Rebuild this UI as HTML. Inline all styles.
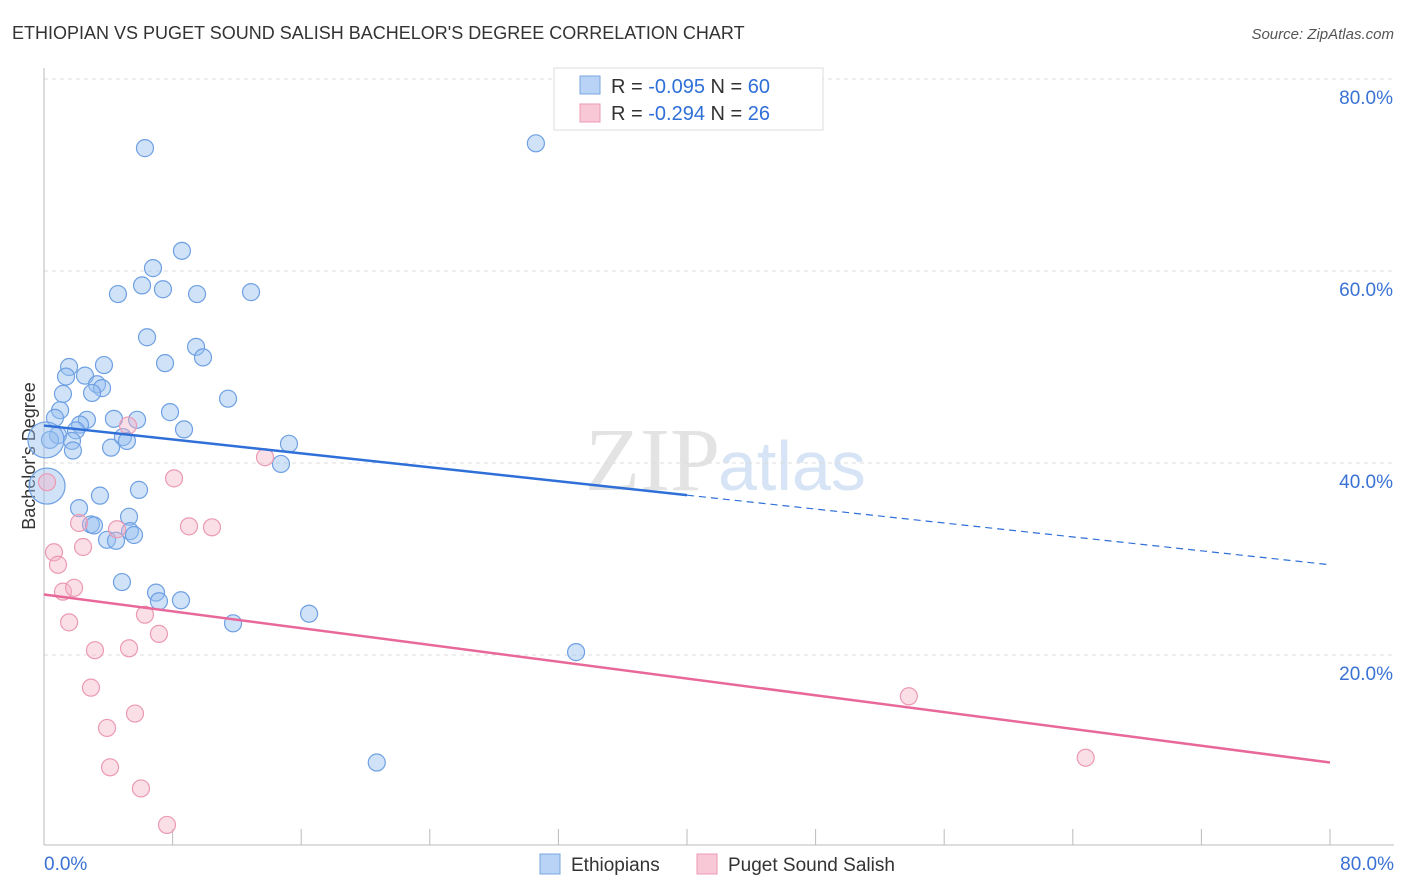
<!DOCTYPE html>
<html><head><meta charset="utf-8"><style>
body{margin:0;background:#fff;font-family:"Liberation Sans",sans-serif;}
svg{display:block}
</style></head><body>
<svg width="1406" height="892" viewBox="0 0 1406 892" id="svg">
<text x="12" y="39" font-size="18" fill="#333">ETHIOPIAN VS PUGET SOUND SALISH BACHELOR'S DEGREE CORRELATION CHART</text>
<text x="1394" y="39" font-size="15" fill="#555" font-style="italic" text-anchor="end">Source: ZipAtlas.com</text>
<text x="720" y="490" font-size="90" fill="#e3e3e3" font-family="Liberation Serif" text-anchor="end">ZIP</text>
<text x="718" y="490" font-size="70" fill="#d6e4f5">atlas</text>
<text x="35" y="456" font-size="18" fill="#333" text-anchor="middle" transform="rotate(-90 35 456)">Bachelor's Degree</text>
<g id="grid"></g><g id="pts"></g><g id="lines"></g>
<g>
<rect x="554" y="68" width="269" height="62" fill="#fff" stroke="#ddd"/>
<rect x="580" y="76" width="20" height="18" fill="#b8d3f5" stroke="#7aa7e0"/>
<rect x="580" y="104" width="20" height="18" fill="#f9c8d6" stroke="#eb9ab2"/>
<text x="611" y="93" font-size="20" fill="#333">R = <tspan fill="#2f6fd8">-0.095</tspan>   N = <tspan fill="#2f6fd8">60</tspan></text>
<text x="611" y="120" font-size="20" fill="#333">R = <tspan fill="#2f6fd8">-0.294</tspan>   N = <tspan fill="#2f6fd8"> 26</tspan></text>
</g>
<g>
<rect x="540" y="854" width="20" height="20" fill="#b8d3f5" stroke="#7aa7e0"/>
<text x="571" y="871" font-size="19" fill="#333">Ethiopians</text>
<rect x="697" y="854" width="20" height="20" fill="#f9c8d6" stroke="#eb9ab2"/>
<text x="728" y="871" font-size="19" fill="#333">Puget Sound Salish</text>
</g>
</svg>
<script>
const yTicks=[20,40,60,80];
const yTickLabels=["20.0%","40.0%","60.0%","80.0%"];
const xTicks=[0,8,16,24,32,40,48,56,64,72,80];
const ethX=[6.28,30.6,8.58,6.78,4.60,6.10,7.40,9.52,12.88,6.41,9.46,9.89,7.53,1.56,3.73,1.37,2.55,3.30,3.61,2.99,1.18,11.45,1.00,7.84,0.68,2.67,4.35,5.79,2.24,1.99,8.71,0.87,4.91,5.16,0.37,1.74,4.17,15.24,1.80,14.74,5.91,3.48,2.18,5.29,2.92,3.11,5.35,5.60,3.92,4.48,4.85,6.97,7.15,8.52,11.76,16.49,33.1,20.7,0.19,0.12];
const ethY=[72.8,73.3,62.1,60.3,57.6,58.5,58.1,57.6,57.8,53.1,52.1,51.0,50.4,50.0,50.2,49.0,49.1,48.2,47.8,47.3,47.2,46.7,45.5,45.3,44.7,44.5,44.6,44.5,44.0,43.4,43.5,42.9,42.7,42.3,42.4,42.3,41.6,42.0,41.3,39.9,37.2,36.6,35.3,34.4,33.6,33.5,32.9,32.5,32.0,31.9,27.6,26.5,25.6,25.7,23.3,24.3,20.3,8.8,37.6,42.4];
const ethBig=[58,59];
const pugX=[0.19,0.62,0.87,1.18,1.87,1.56,2.18,2.43,3.17,2.92,3.92,4.11,4.54,5.29,5.66,6.03,6.28,7.15,7.65,8.09,9.02,10.45,5.23,13.75,53.8,64.8];
const pugY=[38.0,30.7,29.4,26.6,27.0,23.4,33.75,31.25,20.5,16.6,12.4,8.3,33.1,20.7,13.9,6.1,24.2,22.2,2.3,38.4,33.4,33.3,43.9,40.6,15.7,9.3];
const ethTrend=[43.9,29.4];
const pugTrend=[26.3,8.8];
const NS="http://www.w3.org/2000/svg";
const X=v=>44+v*16.075, Y=v=>847-v*9.6;
function mk(t,a,p){const e=document.createElementNS(NS,t);for(const k in a)e.setAttribute(k,a[k]);p.appendChild(e);return e;}
const g=document.getElementById('grid');
yTicks.forEach((t,i)=>{const l=mk('line',{x1:44,x2:1394,y1:Y(t),y2:Y(t),stroke:'#ddd','stroke-dasharray':'4,4'},g);


const tx=mk('text',{x:1393,y:Y(t)+25,'font-size':19,fill:'#3a72d4','text-anchor':'end'},g);tx.textContent=yTickLabels[i];

});
const ax=mk('line',{x1:44,x2:44,y1:68,y2:845,stroke:'#bbb'},g);


const bx=mk('line',{x1:44,x2:1394,y1:845,y2:845,stroke:'#bbb'},g);


xTicks.forEach(t=>{const l=mk('line',{x1:X(t),x2:X(t),y1:829,y2:845,stroke:'#bbb'},g);

});
const x0=mk('text',{x:44,y:870,'font-size':19,fill:'#3a72d4'},g);x0.textContent='0.0%';


const x1=mk('text',{x:1394,y:870,'font-size':19,fill:'#3a72d4','text-anchor':'end'},g);x1.textContent='80.0%';


const p=document.getElementById('pts');
ethX.forEach((v,i)=>{const big=ethBig.includes(i);const c=mk('circle',{cx:X(v),cy:Y(ethY[i]),r:big?18:8.5,fill:'rgba(150,190,240,0.45)',stroke:'#6ea0e3','stroke-width':1.2},p);

});
pugX.forEach((v,i)=>{const c=mk('circle',{cx:X(v),cy:Y(pugY[i]),r:8.5,fill:'rgba(245,175,195,0.4)',stroke:'#eb9ab2','stroke-width':1.2},p);

});
const L=document.getElementById('lines');
const em=ethTrend[0]+(ethTrend[1]-ethTrend[0])*0.5;
const e1=mk('line',{x1:X(0),y1:Y(ethTrend[0]),x2:X(40),y2:Y(em),stroke:'#2f6fd8','stroke-width':2.5},L);


const e2=mk('line',{x1:X(40),y1:Y(em),x2:X(80),y2:Y(ethTrend[1]),stroke:'#2f6fd8','stroke-width':1.2,'stroke-dasharray':'7,5'},L);


const p1=mk('line',{x1:X(0),y1:Y(pugTrend[0]),x2:X(80),y2:Y(pugTrend[1]),stroke:'#e8689a','stroke-width':2.5},L);


</script>
</body></html>
